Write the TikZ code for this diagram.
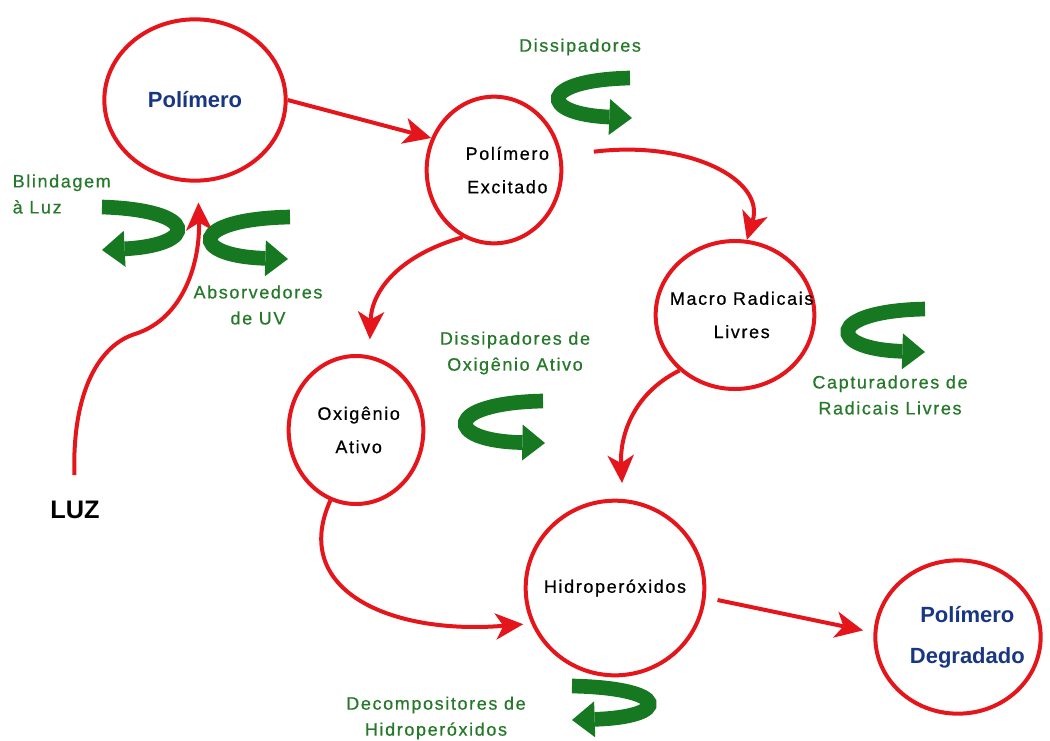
\documentclass[tikz,border=0pt]{standalone}
\usepackage{fontspec}
\setmainfont{Liberation Sans}
\newfontfamily\spacedfont[LetterSpace=9, FakeBold=0.6]{Liberation Sans}
\usepackage{tikz}
\usetikzlibrary{arrows.meta}
\usetikzlibrary{shapes.geometric}
\definecolor{myred}{RGB}{228,22,28}
\definecolor{mygreen}{RGB}{22,120,32}
\definecolor{mytextgreen}{RGB}{38,120,42}
\definecolor{mydarkblue}{RGB}{24,54,130}
\newcommand{\agentsize}{\spacedfont\fontsize{13.5}{19.5}\selectfont}
\tikzset{
    stage/.style={draw=myred, line width=3pt, ellipse, inner sep=0pt},
    stagetext/.style={align=center, font=\spacedfont\fontsize{13.5}{25}\selectfont},
    endtext/.style={align=center, text=mydarkblue, font=\bfseries\fontsize{16.5}{31}\selectfont},
    flow/.style={draw=myred, line width=3pt, -{Stealth[length=21pt, width=20pt, inset=6pt, line width=0pt]}},
    turn/.style={draw=mygreen, line width=11pt, -{Triangle[length=17pt, width=27pt, line width=0pt]}},
    agent/.style={text=mytextgreen, align=center, font=\agentsize}
}

\begin{document}
\begin{tikzpicture}[x=0.75pt, y=-0.75pt]
    \useasboundingbox (0,0) rectangle (1050,740);

    \node[stage, minimum width=136pt, minimum height=121pt,
        label={[endtext]center:Polímero}] (poly) at (195,100) {};
    \node[stage, minimum width=101pt, minimum height=110pt,
        label={[stagetext, xshift=10pt]center:{Polímero\\Excitado}}] (excited) at (494,170) {};
    \node[stage, minimum width=119pt, minimum height=111pt,
        label={[stagetext, xshift=5pt]center:{Macro Radicais\\Livres}}] (macro) at (735,315) {};
    \node[stage, minimum width=101pt, minimum height=111pt,
        label={[stagetext, xshift=2pt]center:{Oxigênio\\Ativo}}] (oxygen) at (356,430) {};
    \node[stage, minimum width=134pt, minimum height=131pt,
        label={[stagetext]center:Hidroperóxidos}] (hydro) at (615,588) {};
    \node[stage, minimum width=124pt, minimum height=115pt,
        label={[endtext, xshift=7pt]center:{Polímero\\Degradado}}] (degraded) at (958,637) {};
    \node[font=\bfseries\fontsize{19}{23}\selectfont] (luz) at (75,510) {LUZ};

    \node[agent] (dissip) at (580,47) {Dissipadores};
    \node[agent, align=left, anchor=west] (shield) at (8,194) {Blindagem\\à Luz};
    \node[agent] (absorb) at (258,305) {Absorvedores\\de UV};
    \node[agent] (oxdissip) at (515,353) {Dissipadores de\\Oxigênio Ativo};
    \node[agent] (capture) at (890,395) {Capturadores de\\Radicais Livres};
    \node[agent] (decomp) at (436,718) {Decompositores de\\Hidroperóxidos};

    \draw[flow] (poly.east) -- (excited.153);
    \draw[flow, shorten <=24pt] (excited.12) .. controls (690,140) and (765,180) .. (macro.81);
    \draw[flow, shorten >=12pt] (excited.245) .. controls (400,255) and (372,290) .. (oxygen.80);
    \draw[flow, shorten >=12pt] (macro.225) .. controls (630,395) and (620,440) .. (hydro.85);
    \draw[flow, shorten >=6pt] (oxygen.250) .. controls (290,590) and (390,635) .. (hydro.203);
    \draw[flow, shorten <=9pt, shorten >=8pt] (hydro.-6) -- (degraded.177);
    \draw[flow, shorten <=16pt, shorten >=15pt] (luz.north) .. controls (72,390) and (100,345) .. (135,334)
        .. controls (185,318) and (200,260) .. (poly.272);

    \draw[turn] (630,78) .. controls (538,80) and (538,114) .. (632,118);
    \draw[turn] (102,207) .. controls (199,210) and (199,245) .. (102,250);
    \draw[turn] (290,217) .. controls (188,219) and (188,256) .. (288,259);
    \draw[turn] (543,401) .. controls (443,403) and (443,441) .. (545,443);
    \draw[turn] (925,309) .. controls (826,311) and (826,349) .. (925,352);
    \draw[turn] (572,686) .. controls (671,688) and (671,717) .. (572,720);
\end{tikzpicture}
\end{document}
